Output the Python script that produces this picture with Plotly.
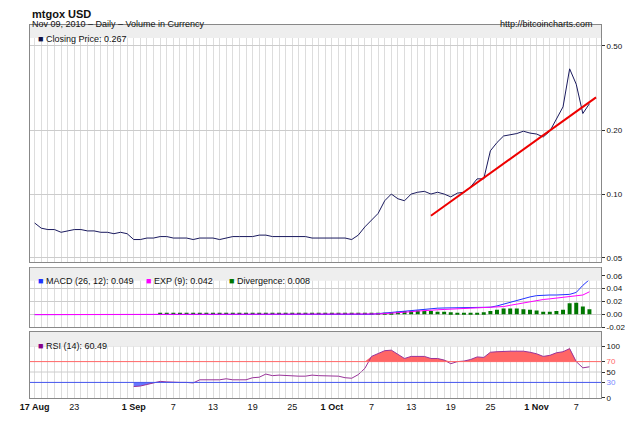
import pandas as pd
import plotly.graph_objects as go

# Daily dates, 17 Aug 2010 .. 9 Nov 2010
dates = pd.date_range("2010-08-17", "2010-11-09", freq="D")

close = [0.073, 0.069, 0.068, 0.068, 0.066, 0.067, 0.068, 0.068, 0.067, 0.067, 0.066, 0.066, 0.065, 0.066, 0.065,
         0.061, 0.061, 0.062, 0.062, 0.063, 0.063, 0.062, 0.062, 0.062, 0.061, 0.062, 0.062, 0.062, 0.061, 0.062,
         0.063, 0.063, 0.063, 0.063, 0.064, 0.064, 0.063, 0.063, 0.063, 0.063, 0.063, 0.063, 0.062, 0.062, 0.062,
         0.062, 0.062, 0.062, 0.061, 0.064, 0.070, 0.075, 0.081, 0.093, 0.100, 0.095, 0.093, 0.100, 0.102, 0.103,
         0.100, 0.102, 0.100, 0.097, 0.101, 0.102, 0.108, 0.118, 0.118, 0.160, 0.175, 0.188, 0.190, 0.193, 0.198,
         0.194, 0.192, 0.186, 0.198, 0.228, 0.258, 0.390, 0.330, 0.240, 0.267]

trend_dates = ["2010-10-16", "2010-11-10"]
trend_vals = [0.079, 0.286]

macd = [0.0] * 52 + [0.001, 0.002, 0.003, 0.004, 0.005, 0.006, 0.007, 0.008, 0.009, 0.0095, 0.0098, 0.010, 0.010,
         0.010, 0.010, 0.010, 0.010, 0.011, 0.013, 0.016, 0.019, 0.022, 0.025, 0.027, 0.029, 0.030, 0.030, 0.030,
         0.030, 0.031, 0.034, 0.045, 0.054, 0.052, 0.049]
signal = [0.0] * 52 + [0.0005, 0.001, 0.0015, 0.002, 0.003, 0.004, 0.005, 0.006, 0.0065, 0.007, 0.0075, 0.008,
           0.0085, 0.009, 0.009, 0.0095, 0.0095, 0.010, 0.011, 0.012, 0.014, 0.016, 0.017, 0.019, 0.021, 0.023,
           0.024, 0.025, 0.026, 0.027, 0.028, 0.030, 0.035, 0.039, 0.042]
divergence = [None] * 19 + [0.001] * 33 + [0.001, 0.002, 0.003, 0.004, 0.005, 0.005, 0.006, 0.005, 0.005, 0.004,
               0.004, 0.003, 0.002, 0.002, 0.002, 0.002, 0.003, 0.005, 0.007, 0.009, 0.009, 0.009, 0.008,
               0.007, 0.006, 0.004, 0.004, 0.005, 0.007, 0.017, 0.018, 0.012, 0.008]
macd = [v - 0.0005 if i < 50 else v for i, v in enumerate(macd)]
signal = [v - 0.0005 if i < 50 else v for i, v in enumerate(signal)]

rsi = [None] * 15 + [22, 23, 26, 29, 32, 31, 30, 30, 30, 29, 35, 35, 35, 35, 37, 35, 35, 35, 39, 40, 46, 43, 44,
       43, 42, 42, 42, 44, 43, 43, 43, 42, 39, 38, 45, 57, 80, 86, 91, 92, 84, 76, 80, 80, 80, 76, 76,
       73, 66, 70, 71, 74, 79, 78, 88, 89, 90, 90, 90, 90, 88, 85, 80, 82, 87, 89, 95, 70, 58, 60]

tick_vals = ["2010-08-17", "2010-08-23", "2010-09-01", "2010-09-07", "2010-09-13", "2010-09-19", "2010-09-25",
             "2010-10-01", "2010-10-07", "2010-10-13", "2010-10-19", "2010-10-25", "2010-11-01", "2010-11-07"]
tick_text = ["<b>17 Aug</b>", "23", "<b>1 Sep</b>", "7", "13", "19", "25", "<b>1 Oct</b>", "7", "13", "19", "25",
             "<b>1 Nov</b>", "7"]

fig = go.Figure()

# price panel
fig.add_trace(go.Scatter(x=dates, y=close, mode="lines", line=dict(color="#1a1a5e", width=1), yaxis="y"))
fig.add_trace(go.Scatter(x=trend_dates, y=trend_vals, mode="lines", line=dict(color="#ee0000", width=2), yaxis="y"))

# MACD panel
fig.add_trace(go.Bar(x=dates, y=divergence, marker=dict(color="#007700", line=dict(width=0)), width=86400000 * 0.6,
                     xaxis="x2", yaxis="y2"))
fig.add_trace(go.Scatter(x=dates, y=macd, mode="lines", line=dict(color="#2233ff", width=1), xaxis="x2", yaxis="y2"))
fig.add_trace(go.Scatter(x=dates, y=signal, mode="lines", line=dict(color="#ff00ff", width=1), xaxis="x2", yaxis="y2"))

# RSI panel
hi = [None if v is None else max(v, 70) for v in rsi]
lo = [None if v is None else min(v, 30) for v in rsi]
fig.add_trace(go.Scatter(x=dates, y=[None if v is None else 70 for v in rsi], mode="lines", line=dict(width=0),
                         xaxis="x3", yaxis="y3"))
fig.add_trace(go.Scatter(x=dates, y=hi, mode="lines", line=dict(width=0), fill="tonexty", fillcolor="#ff6666",
                         xaxis="x3", yaxis="y3"))
fig.add_trace(go.Scatter(x=dates, y=[None if v is None else 30 for v in rsi], mode="lines", line=dict(width=0),
                         xaxis="x3", yaxis="y3"))
fig.add_trace(go.Scatter(x=dates, y=lo, mode="lines", line=dict(width=0), fill="tonexty", fillcolor="#6677ff",
                         xaxis="x3", yaxis="y3"))
fig.add_trace(go.Scatter(x=dates, y=rsi, mode="lines", line=dict(color="#993399", width=1), xaxis="x3", yaxis="y3"))

xrange = ["2010-08-16 07:00", "2010-11-10 18:00"]
xbase = dict(type="date", range=xrange, showgrid=False, tickvals=tick_vals, ticks="", showline=True,
             linecolor="#888", mirror=True, automargin=False,
             minor=dict(dtick=86400000, showgrid=True, gridcolor="#dddddd", tick0="2010-08-17"))
ybase = dict(side="right", showgrid=True, gridcolor="#cccccc", showline=True, linecolor="#888", mirror=True,
             ticks="outside", ticklen=3, tickcolor="#333", zeroline=False, tickfont=dict(size=8),
             automargin=False)

fig.update_layout(
    width=625, height=425, showlegend=False, plot_bgcolor="white", paper_bgcolor="white",
    margin=dict(l=30, r=24, t=25, b=27),
    font=dict(family="Liberation Sans", size=9, color="#111"),
    xaxis=dict(xbase, domain=[0, 1], anchor="y", showticklabels=False),
    xaxis2=dict(xbase, domain=[0, 1], anchor="y2", showticklabels=False, matches="x"),
    xaxis3=dict(xbase, domain=[0, 1], anchor="y3", ticktext=tick_text, showticklabels=True, matches="x"),
    yaxis=dict(ybase, type="log", domain=[0.365, 1], range=[-1.32, -0.202], tickvals=[0.05, 0.1, 0.2, 0.5],
               ticktext=["0.05", "0.10", "0.20", "0.50"]),
    yaxis2=dict(ybase, domain=[0.19, 0.349], range=[-0.02, 0.0723], tickvals=[-0.02, 0, 0.02, 0.04, 0.06],
                ticktext=["-0.02", "0.00", "0.02", "0.04", "0.06"]),
    yaxis3=dict(ybase, domain=[0, 0.177], range=[0, 127], tickvals=[0, 30, 50, 70, 100], showgrid=False,
                ticktext=["0", "<span style='color:#7788ff'>30</span>", "50",
                          "<span style='color:#ff6666'>70</span>", "100"]),
    bargap=0.4,
)

# RSI reference lines
for lvl, col in [(100, "#cccccc"), (50, "#cccccc"), (70, "#ff6666"), (30, "#4455ee")]:
    fig.add_shape(type="line", xref="x3 domain", yref="y3", x0=0, x1=1, y0=lvl, y1=lvl,
                  line=dict(color=col, width=1), layer="above")

# legend header bands
bands = [("y domain", 0.945, [("#111144", "Closing Price: 0.267", 0.01)]),
         ("y2 domain", 0.78, [("#2233ff", "MACD (26, 12): 0.049", 0.01), ("#ff00ff", "EXP (9): 0.042", 0.2),
                              ("#007700", "Divergence: 0.008", 0.345)]),
         ("y3 domain", 0.78, [("#880088", "RSI (14): 60.49", 0.01)])]
for yref, y0, items in bands:
    fig.add_shape(type="rect", xref="paper", yref=yref, x0=0, x1=1, y0=y0, y1=1, fillcolor="#eeeeee",
                  line=dict(width=0), layer="above")
    for col, txt, xp in items:
        fig.add_annotation(xref="paper", yref=yref, x=xp, y=(y0 + 1) / 2, xanchor="left", showarrow=False,
                           text="<span style='color:%s'>■</span> %s" % (col, txt), font=dict(size=9))

fig.add_annotation(xref="paper", yref="paper", x=0.0, y=1.052, xanchor="left", showarrow=False,
                   text="<b>mtgox USD</b>", font=dict(size=11))
fig.add_annotation(xref="paper", yref="paper", x=0.0, y=1.022, xanchor="left", showarrow=False,
                   text="Nov 09, 2010 – Daily – Volume in Currency", font=dict(size=9))
fig.add_annotation(xref="paper", yref="paper", x=0.99, y=1.022, xanchor="right", showarrow=False,
                   text="http://bitcoincharts.com", font=dict(size=9))

# drop the default 8px page margin so the figure sits at the window's corner
fig.write_html("out.html", config=dict(displayModeBar=False),
               post_script="document.body.style.margin='0';document.body.style.overflow='hidden';")
